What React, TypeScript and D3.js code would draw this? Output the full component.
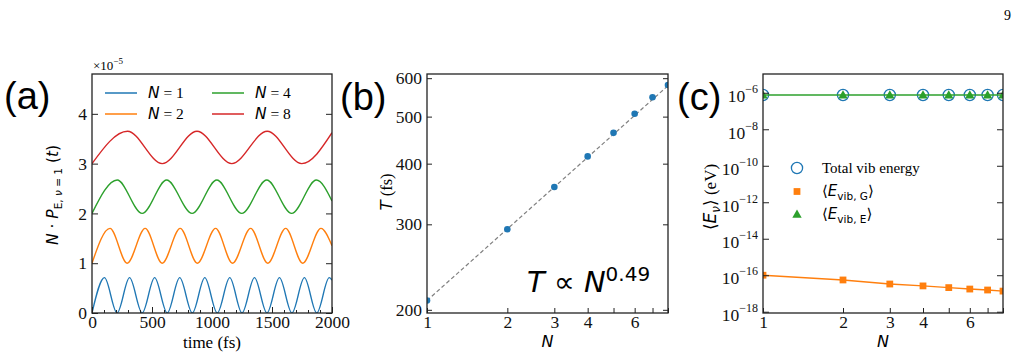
import React, { useRef, useEffect } from "react";
import * as d3 from "d3";

const SERIF = "'Liberation Serif', 'Times New Roman', serif";
const MATH = "'DejaVu Sans', sans-serif";
const SANS = "'Liberation Sans', Arial, sans-serif";

const C_BLUE = "#1f77b4";
const C_ORANGE = "#ff7f0e";
const C_GREEN = "#2ca02c";
const C_RED = "#d62728";
const INK = "#222";

// ---- panel (a): turning points of N·P_E,v=1(t); t in fs, value in units of 1e-5
const TIME_TICKS = [0, 500, 1000, 1500, 2000];
const POP_TICKS = [0, 1, 2, 3, 4];
const popN1: [number, number][] = [
  [0, 0], [104, 0.71], [209, 0], [313, 0.71], [418, 0], [522, 0.71], [627, 0],
  [731, 0.71], [836, 0], [940, 0.71], [1044, 0], [1148, 0.71], [1250, 0],
  [1354, 0.71], [1458, 0], [1562, 0.71], [1666, 0], [1770, 0.71], [1873, 0],
  [1977, 0.71], [2000, 0.66],
];
const popN2: [number, number][] = [
  [0, 1], [150, 1.7], [293, 1], [443, 1.7], [585, 1], [735, 1.7], [878, 1],
  [1030, 1.7], [1171, 1], [1322, 1.7], [1465, 1], [1614, 1.7], [1756, 1],
  [1908, 1.7], [2000, 1.35],
];
const popN4: [number, number][] = [
  [0, 2], [210, 2.67], [418, 2], [622, 2.67], [834, 2], [1040, 2.67],
  [1248, 2], [1456, 2.67], [1664, 2], [1870, 2.67], [2000, 2.25],
];
const popN8: [number, number][] = [
  [0, 3], [296, 3.65], [585, 3], [875, 3.65], [1165, 3], [1460, 3.65],
  [1748, 3], [2000, 3.62],
];
const POP_SERIES = [
  { n: 1, color: C_BLUE, pts: popN1 },
  { n: 2, color: C_ORANGE, pts: popN2 },
  { n: 4, color: C_GREEN, pts: popN4 },
  { n: 8, color: C_RED, pts: popN8 },
];

// ---- panel (b): oscillation period vs N
const N_SITES = [1, 2, 3, 4, 5, 6, 7, 8];
const N_LABELLED = [1, 2, 3, 4, 6];
const PERIOD_FS = [209, 293, 358, 414, 463, 507, 548, 581];
const PERIOD_TICKS = [200, 300, 400, 500, 600];
const FIT_PREFACTOR = 209;
const FIT_EXP = 0.49;

// ---- panel (c): vibrational energies (eV)
const E_TOTAL = [7.6e-7, 7.6e-7, 7.6e-7, 7.6e-7, 7.6e-7, 7.6e-7, 7.6e-7, 7.6e-7];
const E_VIB_G = [1.0e-16, 5.5e-17, 3.3e-17, 2.6e-17, 2.1e-17, 1.75e-17, 1.55e-17, 1.35e-17];
const E_VIB_E = [7.6e-7, 7.6e-7, 7.6e-7, 7.6e-7, 7.6e-7, 7.6e-7, 7.6e-7, 7.6e-7];
const ENERGY_TICKS = [1e-18, 1e-16, 1e-14, 1e-12, 1e-10, 1e-8, 1e-6];

const TOP = 74;
const BOTTOM = 313;
const FRAME_A = { left: 92, right: 332 };
const FRAME_B = { left: 427, right: 668 };
const FRAME_C = { left: 763, right: 1003 };

type Sel = d3.Selection<SVGSVGElement, unknown, null, undefined>;

function addAxis(svg: Sel, axis: any, tx: number, ty: number, fontSize = 17.5) {
  const g = svg.append("g").attr("transform", `translate(${tx},${ty})`).call(axis);
  g.select(".domain").remove();
  g.attr("font-family", SERIF).attr("font-size", fontSize);
  g.selectAll("line").attr("stroke", INK).attr("stroke-width", 1);
  g.selectAll("text").attr("fill", "#111");
  return g;
}

function addFrame(svg: Sel, f: { left: number; right: number }) {
  svg.append("rect")
    .attr("x", f.left).attr("y", TOP)
    .attr("width", f.right - f.left).attr("height", BOTTOM - TOP)
    .attr("fill", "none").attr("stroke", INK).attr("stroke-width", 1.3);
}

function addClip(svg: Sel, id: string, f: { left: number; right: number }) {
  svg.append("clipPath").attr("id", id).append("rect")
    .attr("x", f.left).attr("y", TOP)
    .attr("width", f.right - f.left).attr("height", BOTTOM - TOP);
}

function panelTag(svg: Sel, x: number, y: number, s: string) {
  svg.append("text").attr("x", x).attr("y", y)
    .attr("font-family", SANS).attr("font-size", 38).text(s);
}

function drawPopulation(svg: Sel) {
  const x = d3.scaleLinear().domain([0, 2000]).range([FRAME_A.left, FRAME_A.right]);
  const y = d3.scaleLinear().domain([0, 4.8]).range([BOTTOM, TOP]);
  addClip(svg, "clipA", FRAME_A);

  const line = d3.line<[number, number]>()
    .x(d => x(d[0])).y(d => y(d[1])).curve(d3.curveMonotoneX);
  const g = svg.append("g").attr("clip-path", "url(#clipA)");
  POP_SERIES.forEach(s => {
    g.append("path").attr("d", line(s.pts)!)
      .attr("fill", "none").attr("stroke", s.color).attr("stroke-width", 1.4);
  });

  addAxis(svg, d3.axisBottom(x).tickValues(TIME_TICKS).tickSize(-6).tickPadding(3).tickFormat(d3.format("d")), 0, BOTTOM);
  addAxis(svg, d3.axisBottom(x).tickValues(d3.range(100, 2000, 100).filter(v => v % 500 !== 0)).tickSize(-3).tickFormat(() => ""), 0, BOTTOM);
  addAxis(svg, d3.axisLeft(y).tickValues(POP_TICKS).tickSize(-6).tickPadding(5).tickFormat(d3.format("d")), FRAME_A.left, 0);
  addAxis(svg, d3.axisRight(y).tickValues(POP_TICKS).tickSize(-6).tickFormat(() => ""), FRAME_A.right, 0);
  addFrame(svg, FRAME_A);

  // offset text above the frame
  const off = svg.append("text").attr("x", FRAME_A.left + 1).attr("y", 70)
    .attr("font-family", SERIF).attr("font-size", 13);
  off.append("tspan").text("×10");
  off.append("tspan").attr("dy", -6).attr("font-size", 9).text("−5");

  // legend, two columns
  POP_SERIES.forEach((s, i) => {
    const col = i < 2 ? 0 : 1;
    const row = i % 2;
    const lx = col === 0 ? 105 : 212;
    const ly = 93 + row * 21;
    svg.append("line").attr("x1", lx).attr("x2", lx + 32).attr("y1", ly).attr("y2", ly)
      .attr("stroke", s.color).attr("stroke-width", 1.5);
    const t = svg.append("text").attr("x", lx + 43).attr("y", ly + 5).attr("font-size", 15.5);
    t.append("tspan").attr("font-family", MATH).attr("font-style", "italic").text("N");
    t.append("tspan").attr("font-family", SERIF).text(` = ${s.n}`);
  });

  const yl = svg.append("text").attr("transform", "translate(58,195) rotate(-90)")
    .attr("text-anchor", "middle").attr("font-family", MATH).attr("font-size", 15.5);
  yl.append("tspan").attr("font-style", "italic").text("N");
  yl.append("tspan").text(" · ");
  yl.append("tspan").attr("font-style", "italic").text("P");
  yl.append("tspan").attr("dy", 4).attr("font-size", 10.5).text("E, ");
  yl.append("tspan").attr("font-size", 10.5).attr("font-style", "italic").text("ν");
  yl.append("tspan").attr("font-size", 10.5).text(" = 1");
  yl.append("tspan").attr("dy", -4).text(" (");
  yl.append("tspan").attr("font-style", "italic").text("t");
  yl.append("tspan").text(")");

  svg.append("text").attr("x", (FRAME_A.left + FRAME_A.right) / 2).attr("y", 348)
    .attr("text-anchor", "middle").attr("font-family", SERIF).attr("font-size", 17)
    .text("time (fs)");

  panelTag(svg, 4, 109, "(a)");
}

function logNAxis(svg: Sel, x: d3.ScaleLogarithmic<number, number>) {
  addAxis(svg, d3.axisBottom(x).tickValues(N_SITES).tickSize(-5).tickPadding(3)
    .tickFormat((d: any) => (N_LABELLED.includes(+d) ? String(d) : "")), 0, BOTTOM);
}

function drawPeriod(svg: Sel) {
  const x = d3.scaleLog().domain([1, 8]).range([FRAME_B.left, FRAME_B.right]);
  const y = d3.scaleLog().domain([197, 612]).range([BOTTOM, TOP]);
  addClip(svg, "clipB", FRAME_B);
  const g = svg.append("g").attr("clip-path", "url(#clipB)");

  const fit = d3.line<number>().x(n => x(n)).y(n => y(FIT_PREFACTOR * Math.pow(n, FIT_EXP)));
  g.append("path").attr("d", fit([1, 8])!)
    .attr("fill", "none").attr("stroke", "#808080").attr("stroke-width", 1.2)
    .attr("stroke-dasharray", "4,2.5");
  g.selectAll("circle.pt").data(N_SITES).enter().append("circle")
    .attr("cx", n => x(n)).attr("cy", (_, i) => y(PERIOD_FS[i]))
    .attr("r", 3.3).attr("fill", C_BLUE);

  logNAxis(svg, x);
  addAxis(svg, d3.axisLeft(y).tickValues(PERIOD_TICKS).tickSize(-5).tickPadding(5).tickFormat(d3.format("d")), FRAME_B.left, 0);
  addAxis(svg, d3.axisRight(y).tickValues(PERIOD_TICKS).tickSize(-5).tickFormat(() => ""), FRAME_B.right, 0);
  addFrame(svg, FRAME_B);

  const law = svg.append("text").attr("x", 527).attr("y", 292)
    .attr("font-family", MATH).attr("font-size", 29);
  law.append("tspan").attr("font-style", "italic").text("T");
  law.append("tspan").text(" ∝ ");
  law.append("tspan").attr("font-style", "italic").text("N");
  law.append("tspan").attr("dy", -11).attr("font-size", 20).text("0.49");

  const yl = svg.append("text").attr("transform", "translate(392,192) rotate(-90)")
    .attr("text-anchor", "middle").attr("font-size", 16.5);
  yl.append("tspan").attr("font-family", MATH).attr("font-style", "italic").text("T");
  yl.append("tspan").attr("font-family", SERIF).text(" (fs)");

  svg.append("text").attr("x", (FRAME_B.left + FRAME_B.right) / 2).attr("y", 347)
    .attr("text-anchor", "middle").attr("font-family", MATH).attr("font-style", "italic")
    .attr("font-size", 16).text("N");

  panelTag(svg, 340, 110, "(b)");
}

function drawEnergy(svg: Sel) {
  const x = d3.scaleLog().domain([1, 8]).range([FRAME_C.left, FRAME_C.right]);
  const y = d3.scaleLog().domain([Math.pow(10, -18.07), Math.pow(10, -4.97)]).range([BOTTOM, TOP]);
  addClip(svg, "clipC", FRAME_C);
  const g = svg.append("g").attr("clip-path", "url(#clipC)");

  const pts = (vals: number[]) => N_SITES.map((n, i) => [n, vals[i]] as [number, number]);
  const line = d3.line<[number, number]>().x(d => x(d[0])).y(d => y(d[1]));
  const square = d3.symbol().type(d3.symbolSquare).size(46);
  const tri = d3.symbol().type(d3.symbolTriangle).size(38);

  g.selectAll("circle.tot").data(pts(E_TOTAL)).enter().append("circle")
    .attr("cx", d => x(d[0])).attr("cy", d => y(d[1])).attr("r", 5.6)
    .attr("fill", "none").attr("stroke", C_BLUE).attr("stroke-width", 1.3);

  g.append("path").attr("d", line(pts(E_VIB_G))!).attr("fill", "none")
    .attr("stroke", C_ORANGE).attr("stroke-width", 1.4);
  g.selectAll("path.sq").data(pts(E_VIB_G)).enter().append("path")
    .attr("d", square()!).attr("transform", d => `translate(${x(d[0])},${y(d[1])})`)
    .attr("fill", C_ORANGE);

  g.append("path").attr("d", line(pts(E_VIB_E))!).attr("fill", "none")
    .attr("stroke", C_GREEN).attr("stroke-width", 1.4);
  g.selectAll("path.tri").data(pts(E_VIB_E)).enter().append("path")
    .attr("d", tri()!).attr("transform", d => `translate(${x(d[0])},${y(d[1]) + 0.8})`)
    .attr("fill", C_GREEN);

  logNAxis(svg, x);
  const left = addAxis(svg, d3.axisLeft(y).tickValues(ENERGY_TICKS).tickSize(-6).tickPadding(5).tickFormat(() => ""), FRAME_C.left, 0);
  left.selectAll<SVGTextElement, number>("text").each(function (d) {
    const t = d3.select(this);
    t.text(null).attr("dy", "0.5em");
    t.append("tspan").text("10");
    t.append("tspan").attr("dy", "-0.75em").attr("font-size", 12)
      .text("−" + Math.abs(Math.round(Math.log10(d))));
  });
  addAxis(svg, d3.axisRight(y).tickValues(ENERGY_TICKS).tickSize(-6).tickFormat(() => ""), FRAME_C.right, 0);
  addFrame(svg, FRAME_C);

  // legend
  const lx = 797;
  svg.append("circle").attr("cx", lx).attr("cy", 168).attr("r", 5.6)
    .attr("fill", "none").attr("stroke", C_BLUE).attr("stroke-width", 1.3);
  svg.append("path").attr("d", square()!).attr("transform", `translate(${lx},191.5)`).attr("fill", C_ORANGE);
  svg.append("path").attr("d", tri()!).attr("transform", `translate(${lx},215)`).attr("fill", C_GREEN);

  svg.append("text").attr("x", 822).attr("y", 173).attr("font-family", SERIF)
    .attr("font-size", 15).text("Total vib energy");
  [["G", 196], ["E", 219]].forEach(([sub, ty]) => {
    const t = svg.append("text").attr("x", 822).attr("y", ty as number)
      .attr("font-family", MATH).attr("font-size", 15);
    t.append("tspan").text("⟨");
    t.append("tspan").attr("font-style", "italic").text("E");
    t.append("tspan").attr("dy", 4).attr("font-size", 10.5).text(`vib, ${sub}`);
    t.append("tspan").attr("dy", -4).text("⟩");
  });

  const yl = svg.append("text").attr("transform", "translate(716,197) rotate(-90)")
    .attr("text-anchor", "middle").attr("font-size", 17);
  yl.append("tspan").attr("font-family", MATH).text("⟨");
  yl.append("tspan").attr("font-family", MATH).attr("font-style", "italic").text("E");
  yl.append("tspan").attr("font-family", MATH).attr("font-style", "italic").attr("dy", 4).attr("font-size", 12).text("ν");
  yl.append("tspan").attr("font-family", MATH).attr("dy", -4).text("⟩");
  yl.append("tspan").attr("font-family", SERIF).text(" (eV)");

  svg.append("text").attr("x", (FRAME_C.left + FRAME_C.right) / 2).attr("y", 347)
    .attr("text-anchor", "middle").attr("font-family", MATH).attr("font-style", "italic")
    .attr("font-size", 16).text("N");

  panelTag(svg, 677, 110, "(c)");
}

export default function App() {
  const svgRef = useRef<SVGSVGElement>(null);

  useEffect(() => {
    const svg = d3.select(svgRef.current!) as Sel;
    svg.selectAll("*").remove();
    svg.append("text").attr("x", 1004).attr("y", 20).attr("font-family", SERIF)
      .attr("font-size", 14).text("9");
    drawPopulation(svg);
    drawPeriod(svg);
    drawEnergy(svg);
  }, []);

  return (
    <svg
      ref={svgRef}
      width={1016}
      height={357}
      style={{ position: "absolute", left: 0, top: 0, background: "#fff" }}
    />
  );
}
